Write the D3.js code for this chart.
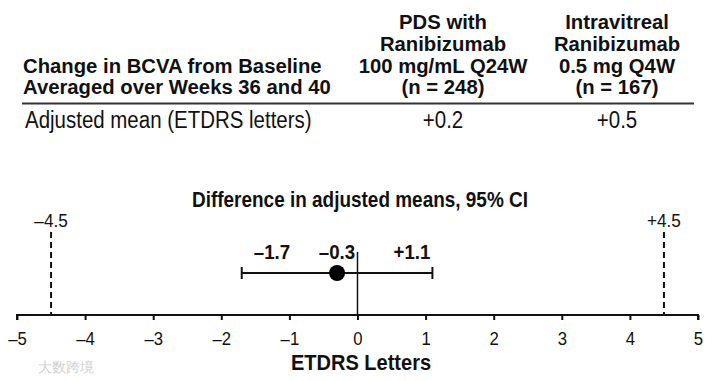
<!DOCTYPE html>
<html><head><meta charset="utf-8">
<script src="https://cdn.jsdelivr.net/npm/d3@7"></script>
<style>body{margin:0;background:#fff}svg{display:block}text{font-family:"Liberation Sans",Arial,sans-serif;fill:#111}</style>
</head><body><svg id="c" width="714" height="381"></svg>
<script>
const rowLabel = "Adjusted mean (ETDRS letters)";
const headerLeft = ["Change in BCVA from Baseline", "Averaged over Weeks 36 and 40"];
const groups = [
  ["PDS with", "Ranibizumab", "100 mg/mL Q24W", "(n = 248)"],
  ["Intravitreal", "Ranibizumab", "0.5 mg Q4W", "(n = 167)"]
];
const adjMeans = ["+0.2", "+0.5"];
const estimate = -0.3, ciLow = -1.7, ciHigh = 1.1;
const margins = [-4.5, 4.5];
const marginLabels = ["\u20134.5", "+4.5"];
const ticks = [-5,-4,-3,-2,-1,0,1,2,3,4,5];
const fmt = v => v < 0 ? "\u2013" + Math.abs(v) : String(v);
const fmtSigned = v => v < 0 ? "\u2013" + Math.abs(v).toFixed(1) : "+" + v.toFixed(1);

const svg = d3.select("#c");
const SX = 0.89;
// condensed text helper
function ctext(sel, xf, yf, size, bold, anchor, sx) {
  return sel.attr("transform", (d,i)=>`translate(${xf(d,i)},${yf(d,i)}) scale(${sx||SX},1)`)
    .attr("font-size", size).attr("font-weight", bold ? "bold" : "normal")
    .attr("text-anchor", anchor || "start");
}
// table
const colX = [443, 617];
const lineY = [29, 51, 73, 94];
ctext(svg.append("g").selectAll("text").data(headerLeft).join("text").text(d=>d),
  ()=>23, (d,i)=>lineY[2+i], 20.3, true, "start", 1);
groups.forEach((g,gi)=>{
  ctext(svg.append("g").selectAll("text").data(g).join("text").text(d=>d),
    ()=>colX[gi], (d,i)=>lineY[i], 20.3, true, "middle", 1);
});
svg.append("line").attr("x1",22).attr("x2",694).attr("y1",103.5).attr("y2",103.5).attr("stroke","#333").attr("stroke-width",2);
ctext(svg.append("text").datum(rowLabel).text(rowLabel), ()=>25, ()=>128, 23, false);
ctext(svg.append("g").selectAll("text").data(adjMeans).join("text").text(d=>d),
  (d,i)=>colX[i], ()=>128, 23, false, "middle");

// forest plot
const x = d3.scaleLinear().domain([-5,5]).range([17,698]);
const axisY = 315;
ctext(svg.append("text").datum(0).text("Difference in adjusted means, 95% CI"), ()=>360, ()=>207, 21.3, true, "middle");
const ax = svg.append("g").attr("transform",`translate(0,${axisY})`)
  .call(d3.axisBottom(x).tickValues(ticks).tickFormat(fmt).tickSize(5).tickPadding(13));
ax.select(".domain").attr("stroke","#111").attr("stroke-width",2).attr("d",`M${x(-5)},5V0H${x(5)}V5`);
ax.selectAll(".tick line").attr("stroke","#111").attr("stroke-width",2);
ax.selectAll(".tick text").attr("font-size",18).attr("font-family","Liberation Sans, Arial, sans-serif").attr("fill","#111")
  .attr("dy",null).attr("y",null).attr("transform","translate(0,30) scale(0.93,1)");
ctext(svg.append("text").datum(0).text("ETDRS Letters"), ()=>361, ()=>370, 22.5, true, "middle");

svg.append("g").selectAll("line").data(margins).join("line")
  .attr("x1",d=>x(d)).attr("x2",d=>x(d)).attr("y1",232).attr("y2",axisY)
  .attr("stroke","#111").attr("stroke-width",2).attr("stroke-dasharray","6,4");
ctext(svg.append("g").selectAll("text").data(margins).join("text").text((d,i)=>marginLabels[i]),
  d=>x(d), ()=>227, 18.5, false, "middle", 0.93);

svg.append("line").attr("x1",x(0)).attr("x2",x(0)).attr("y1",252).attr("y2",axisY).attr("stroke","#111").attr("stroke-width",1.5);
const ciY = 273;
svg.append("line").attr("x1",x(ciLow)).attr("x2",x(ciHigh)).attr("y1",ciY).attr("y2",ciY).attr("stroke","#111").attr("stroke-width",2);
svg.append("g").selectAll("line").data([ciLow,ciHigh]).join("line")
  .attr("x1",d=>x(d)).attr("x2",d=>x(d)).attr("y1",ciY-6).attr("y2",ciY+6).attr("stroke","#111").attr("stroke-width",2);
svg.append("circle").attr("cx",x(estimate)).attr("cy",ciY).attr("r",8).attr("fill","#000");
const labs = [[ciLow,272],[estimate,337],[ciHigh,412]];
ctext(svg.append("g").selectAll("text").data(labs).join("text").text(d=>fmtSigned(d[0])),
  d=>d[1], ()=>259, 21, true, "middle");
svg.append("text").attr("x",38).attr("y",372).attr("font-size",14).attr("font-family","Noto Sans CJK SC").style("fill","#d0d0d0").text("大数跨境");
</script></body></html>
